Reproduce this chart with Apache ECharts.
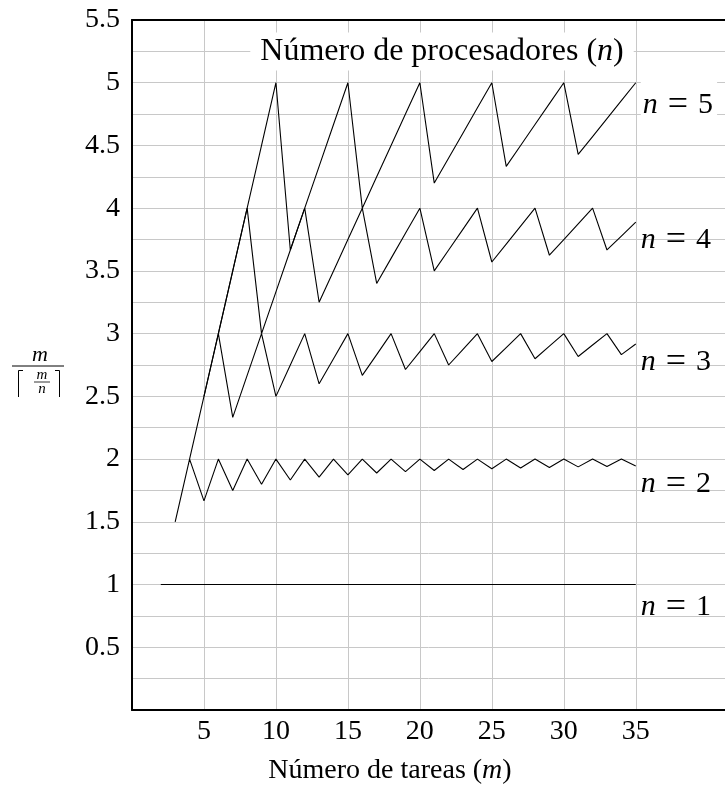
<!DOCTYPE html>
<html>
<head>
<meta charset="utf-8">
<script src="https://cdn.jsdelivr.net/npm/echarts@6/dist/echarts.min.js"></script>
<style>
  html, body { margin: 0; padding: 0; background: #fff; }
  #chart { width: 725px; height: 785px; }
</style>
</head>
<body>
<div id="chart"></div>
<script>
// m = número de tareas
const tareas = [2, 3, 4, 5, 6, 7, 8, 9, 10, 11, 12, 13, 14, 15, 16, 17, 18,
  19, 20, 21, 22, 23, 24, 25, 26, 27, 28, 29, 30, 31, 32, 33, 34, 35];

// m / ceil(m / n) for each n (null = not drawn)
const procesadores1 = [1, 1, 1, 1, 1, 1, 1, 1, 1, 1, 1, 1, 1, 1, 1, 1, 1,
  1, 1, 1, 1, 1, 1, 1, 1, 1, 1, 1, 1, 1, 1, 1, 1, 1];
const procesadores2 = [null, 1.5, 2, 1.667, 2, 1.75, 2, 1.8, 2, 1.833, 2, 1.857, 2, 1.875, 2, 1.889, 2,
  1.9, 2, 1.909, 2, 1.917, 2, 1.923, 2, 1.929, 2, 1.933, 2, 1.938, 2, 1.941, 2, 1.944];
const procesadores3 = [null, null, 2, 2.5, 3, 2.333, 2.667, 3, 2.5, 2.75, 3, 2.6, 2.8, 3, 2.667, 2.833, 3,
  2.714, 2.857, 3, 2.75, 2.875, 3, 2.778, 2.889, 3, 2.8, 2.9, 3, 2.818, 2.909, 3, 2.833, 2.917];
const procesadores4 = [null, null, null, 2.5, 3, 3.5, 4, 3, 3.333, 3.667, 4, 3.25, 3.5, 3.75, 4, 3.4, 3.6,
  3.8, 4, 3.5, 3.667, 3.833, 4, 3.571, 3.714, 3.857, 4, 3.625, 3.75, 3.875, 4, 3.667, 3.778, 3.889];
const procesadores5 = [null, null, null, null, 3, 3.5, 4, 4.5, 5, 3.667, 4, 4.333, 4.667, 5, 4, 4.25, 4.5,
  4.75, 5, 4.2, 4.4, 4.6, 4.8, 5, 4.333, 4.5, 4.667, 4.833, 5, 4.429, 4.571, 4.714, 4.857, 5];

const etiquetasN = ["1", "2", "3", "4", "5"];
const xTicks = [5, 10, 15, 20, 25, 30, 35];
const yLabelStep = 0.5;

const FONT = "'Liberation Serif', 'DejaVu Serif', serif";
const FS = 28;
const GRID_COLOR = "#c8c8c8";

const italic = (size) => ({ fontStyle: "italic", fontFamily: FONT, fontSize: size, color: "#000" });

const curves = [procesadores1, procesadores2, procesadores3, procesadores4, procesadores5];

const series = curves.map((values, k) => {
  const data = tareas
    .map((m, i) => [m, values[i]])
    .filter((p) => p[1] !== null);
  const isTop = k === 4;
  return {
    type: "line",
    data,
    showSymbol: false,
    silent: true,
    animation: false,
    lineStyle: { color: "#000", width: 1.1 },
    endLabel: {
      show: true,
      distance: 5,
      offset: [0, k === 0 ? 23 : 18],
      formatter: "{i|n}\u2004{e|=}\u2004" + etiquetasN[k],
      color: "#000",
      fontFamily: FONT,
      fontSize: 30,
      backgroundColor: isTop ? "#fff" : "transparent",
      padding: isTop ? [9, 4, 0, 2] : 0,
      rich: {
        i: italic(30),
        e: { fontFamily: FONT, fontSize: 36, color: "#000" },
      },
    },
  };
});

const chart = echarts.init(document.getElementById("chart"));

chart.setOption({
  animation: false,
  grid: { left: 132, right: 0, top: 20, bottom: 75, containLabel: false },
  xAxis: [
    {
      type: "value",
      min: 0,
      max: 41.2,
      interval: 5,
      axisLine: { show: true, onZero: false, lineStyle: { color: "#000", width: 2 } },
      axisTick: { show: false, customValues: xTicks },
      axisLabel: {
        customValues: xTicks,
        color: "#000",
        fontFamily: FONT,
        fontSize: FS,
        margin: 8,
      },
      splitLine: { show: true, lineStyle: { color: GRID_COLOR, width: 1 } },
    },
    {
      type: "value",
      position: "top",
      min: 0,
      max: 41.2,
      axisLine: { show: true, onZero: false, lineStyle: { color: "#000", width: 2 } },
      axisTick: { show: false },
      axisLabel: { show: false },
      splitLine: { show: false },
    },
  ],
  yAxis: {
    type: "value",
    min: 0,
    max: 5.5,
    interval: 0.25,
    axisLine: { show: true, onZero: false, lineStyle: { color: "#000", width: 2 } },
    axisTick: { show: false },
    axisLabel: {
      color: "#000",
      fontFamily: FONT,
      fontSize: FS,
      margin: 12,
      formatter: (v) => {
        if (v <= 0) return "";
        const r = v / yLabelStep;
        return Math.abs(r - Math.round(r)) < 1e-6 ? String(v) : "";
      },
    },
    splitLine: { show: true, lineStyle: { color: GRID_COLOR, width: 1 } },
  },
  series,
  graphic: [
    {
      type: "text",
      x: 442,
      y: 51.5,
      z: 100,
      style: {
        text: "Número de procesadores ({i|n})",
        align: "center",
        verticalAlign: "middle",
        fontFamily: FONT,
        fontSize: 32,
        fill: "#000",
        backgroundColor: "#fff",
        padding: [3, 10],
        rich: { i: italic(32) },
      },
    },
    {
      type: "text",
      x: 390,
      y: 771,
      style: {
        text: "Número de tareas ({i|m})",
        align: "center",
        verticalAlign: "middle",
        fontFamily: FONT,
        fontSize: FS,
        fill: "#000",
        rich: { i: italic(FS) },
      },
    },
    // y axis name: m / ⌈m/n⌉
    {
      type: "group",
      children: [
        {
          type: "text",
          x: 40,
          y: 355,
          style: { text: "m", align: "center", verticalAlign: "middle", fontFamily: FONT, fontStyle: "italic", fontSize: 22, fill: "#000" },
        },
        { type: "line", shape: { x1: 12, y1: 366, x2: 64, y2: 366 }, style: { stroke: "#000", lineWidth: 1 } },
        { type: "polyline", shape: { points: [[23, 370.5], [18.5, 370.5], [18.5, 397]] }, style: { stroke: "#000", lineWidth: 1, fill: null } },
        { type: "polyline", shape: { points: [[55, 370.5], [59.5, 370.5], [59.5, 397]] }, style: { stroke: "#000", lineWidth: 1, fill: null } },
        {
          type: "text",
          x: 42,
          y: 375,
          style: { text: "m", align: "center", verticalAlign: "middle", fontFamily: FONT, fontStyle: "italic", fontSize: 15, fill: "#000" },
        },
        { type: "line", shape: { x1: 34, y1: 382, x2: 50, y2: 382 }, style: { stroke: "#000", lineWidth: 0.8 } },
        {
          type: "text",
          x: 42,
          y: 389.5,
          style: { text: "n", align: "center", verticalAlign: "middle", fontFamily: FONT, fontStyle: "italic", fontSize: 15, fill: "#000" },
        },
      ],
    },
  ],
});
</script>
</body>
</html>
